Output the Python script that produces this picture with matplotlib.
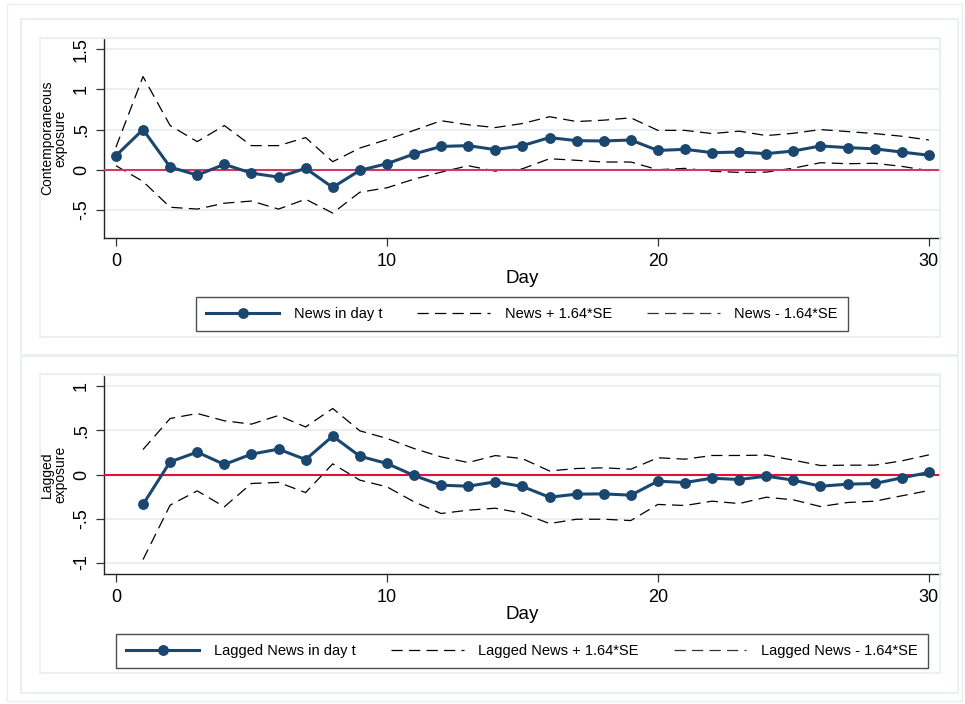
import numpy as np
import matplotlib
matplotlib.use("Agg")
import matplotlib.pyplot as plt
from matplotlib.lines import Line2D
from matplotlib.patches import Rectangle

plt.rcParams['font.family'] = ['Liberation Sans', 'DejaVu Sans']

# datos
days = list(range(0, 31))
news = [0.175, 0.50, 0.033, -0.067, 0.067, -0.042, -0.092, 0.017, -0.22, -0.008,
        0.075, 0.196, 0.29, 0.30, 0.25, 0.30, 0.40, 0.362, 0.358, 0.37,
        0.24, 0.254, 0.213, 0.22, 0.20, 0.233, 0.296, 0.275, 0.26, 0.22, 0.18]
news_hi = [0.28, 1.16, 0.55, 0.35, 0.55, 0.30, 0.30, 0.40, 0.10, 0.27,
           0.375, 0.49, 0.61, 0.56, 0.525, 0.575, 0.66, 0.60, 0.617, 0.646,
           0.49, 0.49, 0.45, 0.48, 0.425, 0.454, 0.50, 0.475, 0.45, 0.417, 0.37]
news_lo = [0.05, -0.146, -0.467, -0.49, -0.417, -0.39, -0.49, -0.367, -0.54, -0.28,
           -0.225, -0.117, -0.03, 0.05, -0.017, 0.012, 0.137, 0.117, 0.096, 0.096,
           0.0, 0.017, -0.02, -0.033, -0.03, 0.02, 0.087, 0.075, 0.08, 0.042, -0.012]

lag_days = list(range(1, 31))
lag = [-0.34, 0.144, 0.254, 0.114, 0.231, 0.288, 0.17, 0.436, 0.208, 0.125,
       -0.011, -0.121, -0.133, -0.083, -0.136, -0.258, -0.223, -0.22, -0.235, -0.076,
       -0.091, -0.042, -0.057, -0.019, -0.064, -0.133, -0.11, -0.102, -0.038, 0.023]
lag_hi = [0.284, 0.636, 0.693, 0.61, 0.572, 0.67, 0.54, 0.75, 0.496, 0.41,
          0.295, 0.20, 0.136, 0.215, 0.18, 0.04, 0.068, 0.076, 0.06, 0.19,
          0.174, 0.216, 0.216, 0.22, 0.163, 0.102, 0.106, 0.106, 0.155, 0.223]
lag_lo = [-0.966, -0.348, -0.186, -0.367, -0.102, -0.09, -0.205, 0.121, -0.064, -0.14,
          -0.31, -0.443, -0.405, -0.383, -0.44, -0.557, -0.508, -0.508, -0.523, -0.34,
          -0.352, -0.303, -0.33, -0.258, -0.288, -0.364, -0.318, -0.303, -0.242, -0.182]

W, H = 965, 704
NAVY = '#1a476f'
GRID = '#e6eff1'


def px_axes(fig, l, t, r, b):
    return fig.add_axes([l / W, (H - b) / H, (r - l) / W, (b - t) / H])


def px_rect(fig, l, t, r, b, lw=1.2):
    fig.patches.append(Rectangle((l / W, (H - b) / H), (r - l) / W, (b - t) / H,
                                 transform=fig.transFigure, fill=False,
                                 edgecolor=GRID, linewidth=lw))


def panel(ax, x, y, hi, lo, ylim, yticks, yticklabels, ylabel, zcolor, names, legpos):
    ax.plot(x, hi, color='black', lw=0.9, dashes=(9, 5))
    ax.plot(x, lo, color='black', lw=0.9, dashes=(9, 5))
    ax.axhline(0, color=zcolor, lw=1.5, zorder=3)
    ax.plot(x, y, color=NAVY, lw=2.2, marker='o', ms=6.8, zorder=4)
    ax.set_xlim(-0.44, 30.41)
    ax.set_ylim(*ylim)
    ax.set_xticks([0, 10, 20, 30])
    ax.set_yticks(yticks)
    ax.set_yticklabels(yticklabels, rotation=90, va='center')
    ax.tick_params(axis='both', labelsize=13, length=6, width=0.9, color='#333333')
    ax.tick_params(axis='x', pad=5)
    ax.tick_params(axis='y', pad=4)
    ax.grid(axis='y', color=GRID, lw=1.3)
    ax.set_axisbelow(True)
    for s in ['top', 'right']:
        ax.spines[s].set_color(GRID)
        ax.spines[s].set_linewidth(1.0)
    for s in ['left', 'bottom']:
        ax.spines[s].set_color('#222222')
        ax.spines[s].set_linewidth(1.0)
    ax.set_xlabel('Day', fontsize=13.5, labelpad=0)
    ax.set_ylabel(ylabel, fontsize=10, labelpad=4, linespacing=0.95)

    h = [Line2D([], [], color=NAVY, lw=2.2, marker='o', ms=6.8),
         Line2D([], [], color='black', lw=0.9, dashes=(9, 5)),
         Line2D([], [], color='#333333', lw=0.9, dashes=(9, 5))]
    fig.legend(h, names, loc='center', bbox_to_anchor=legpos, ncol=3,
               fontsize=10.5, frameon=True, fancybox=False, edgecolor='#222222',
               handlelength=5, handletextpad=1.0, columnspacing=2.4,
               borderpad=0.7).get_frame().set_linewidth(1.0)


fig = plt.figure(figsize=(W / 100, H / 100), dpi=100)

# marcos de fondo
px_rect(fig, 7, 4, 962, 701, lw=1.0)
px_rect(fig, 21, 19, 958, 355)
px_rect(fig, 40, 38, 940, 337)
px_rect(fig, 21, 356, 958, 693)
px_rect(fig, 40, 374, 940, 673)

ax1 = px_axes(fig, 104, 38, 940, 238)
panel(ax1, days, news, news_hi, news_lo, (-0.85, 1.64),
      [-0.5, 0, 0.5, 1, 1.5], ['-.5', '0', '.5', '1', '1.5'],
      'Contemporaneous\nexposure', '#cf3a60',
      ['News in day t', 'News + 1.64*SE', 'News - 1.64*SE'],
      (522 / W, 1 - 314 / H))

ax2 = px_axes(fig, 104, 375, 940, 574)
panel(ax2, lag_days, lag, lag_hi, lag_lo, (-1.13, 1.13),
      [-1, -0.5, 0, 0.5, 1], ['-1', '-.5', '0', '.5', '1'],
      'Lagged\nexposure', '#e0103a',
      ['Lagged News in day t', 'Lagged News + 1.64*SE', 'Lagged News - 1.64*SE'],
      (522 / W, 1 - 651 / H))

fig.savefig('out.png', dpi=100)
